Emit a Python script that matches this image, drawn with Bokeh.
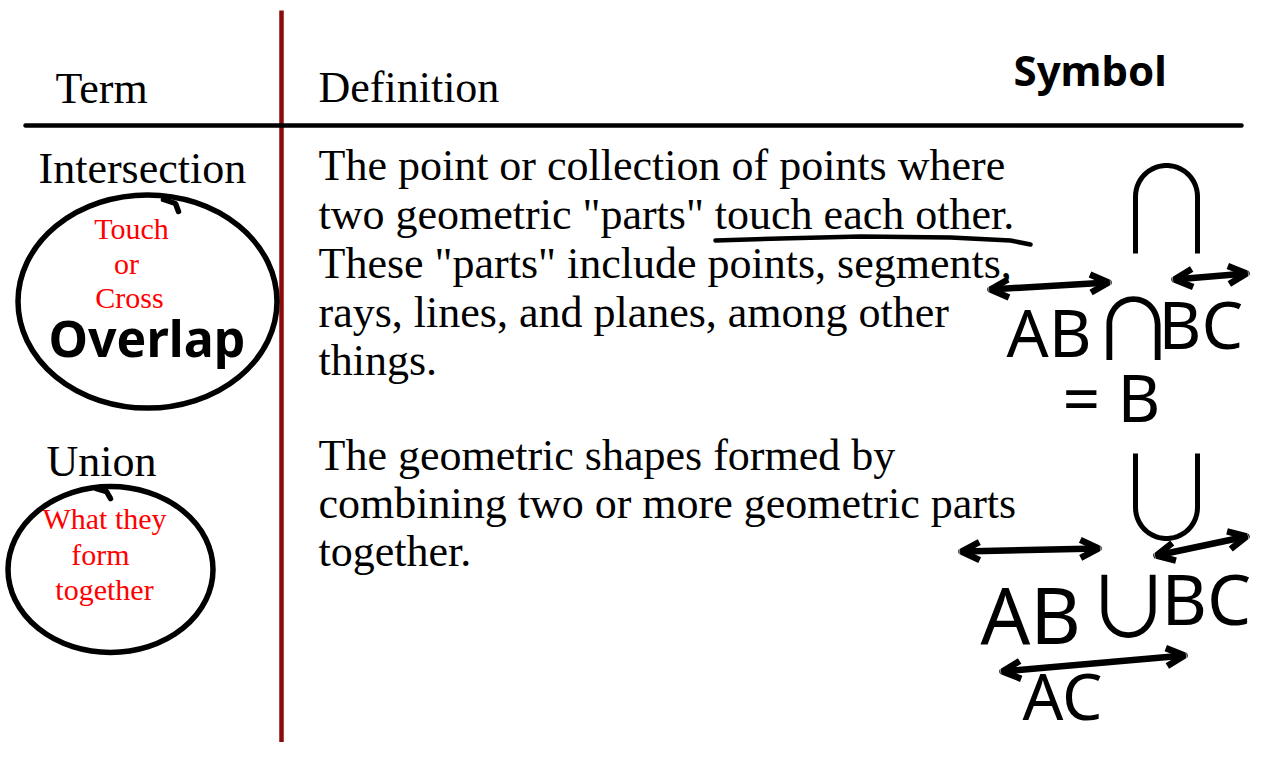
import numpy as np
from bokeh.plotting import figure
from bokeh.models import Range1d, Arrow, OpenHead
from bokeh.core.properties import value
from bokeh.embed import file_html
from bokeh.resources import INLINE

# ---------------- content ----------------
header_texts = ["Term", "Definition"]
term_texts = ["Intersection", "Union"]
intersection_def = [
    "The point or collection of points where",
    "two geometric \"parts\" touch each other.",
    "These \"parts\" include points, segments,",
    "rays, lines, and planes, among other",
    "things.",
]
union_def = [
    "The geometric shapes formed by",
    "combining two or more geometric parts",
    "together.",
]
intersection_notes = ["Touch", "or", "Cross"]
union_notes = ["What they", "form", "together"]
hand_words = ["Symbol", "Overlap"]
intersection_expr = ["AB", "\u2229", "BC", "= B"]
union_expr = ["AB", "\u222A", "BC", "AC"]

# ---------------- layout (pixel-like data coordinates) ----------------
W, H = 1252, 742
p = figure(width=W, height=H, x_range=Range1d(0, W), y_range=Range1d(H, 0),
           x_axis_type=None, y_axis_type=None, toolbar_location=None,
           output_backend="svg", min_border=0, outline_line_color=None,
           background_fill_color="white", border_fill_color="white")

SERIF = value("Liberation Serif")
HAND = value("Noto Sans")
SYM = value("Noto Sans CJK JP")

def by(baselines, size, k):
    # place glyph baselines at the wanted pixel rows
    return [b - k * size for b in baselines]

KS, KH, KD = 0.35, 0.41, 0.40

# table rules
p.line(x=[281, 281], y=[10, 760], line_color="#8b0a0a", line_width=4.5)
p.line(x=[25, 1241], y=[125, 125], line_color="black", line_width=4.5, line_cap="round")

# headers
p.text(x=[55, 318], y=by([103, 102], 44, KS), text=header_texts, text_font=SERIF,
       text_font_size="44px", text_baseline="alphabetic", text_color="black")

# terms
p.text(x=[38, 46], y=by([183, 476], 44, KS), text=term_texts, text_font=SERIF,
       text_font_size="44px", text_baseline="alphabetic", text_color="black")

# definitions
p.text(x=[318] * len(intersection_def), y=by([180, 229, 278, 327, 375], 44, KS),
       text=intersection_def, text_font=SERIF, text_font_size="44px",
       text_baseline="alphabetic", text_color="black")
p.text(x=[318] * len(union_def), y=by([470, 518, 566], 44, KS),
       text=union_def, text_font=SERIF, text_font_size="44px",
       text_baseline="alphabetic", text_color="black")

# red notes
p.text(x=[131, 126, 129], y=by([238, 273, 307], 30, KS), text=intersection_notes,
       text_font=SERIF, text_font_size="30px", text_align="center",
       text_baseline="alphabetic", text_color="red")
p.text(x=[104, 100, 104], y=by([528, 564, 599], 30, KS), text=union_notes,
       text_font=SERIF, text_font_size="30px", text_align="center",
       text_baseline="alphabetic", text_color="red")

# hand drawn circles
p.ellipse(x=[147, 110], y=[301, 569], width=[259, 205], height=[213, 166],
          fill_color=None, line_color="black", line_width=5.5)
p.multi_line(xs=[[163, 175, 178], [96, 106, 110]], ys=[[199, 203, 211], [488, 491, 498]],
             line_color="black", line_width=5.5, line_cap="round")

# underline
p.line(x=[715, 780, 860, 950, 1010, 1030], y=[240, 238, 236, 237, 240, 244],
       line_color="black", line_width=4.5, line_cap="round", line_join="round")

# handwritten words
p.text(x=[1013], y=by([86], 42, KH), text=[hand_words[0]], text_font=HAND,
       text_font_size="42px", text_font_style="bold", text_baseline="alphabetic",
       text_color="black")
p.text(x=[48], y=by([358], 50, KH), text=[hand_words[1]], text_font=HAND,
       text_font_size="50px", text_font_style="bold", text_baseline="alphabetic",
       text_color="black")

# neat symbols (cap and cup)
def cap_path(cx, cy, r, leg, up=True):
    t = np.linspace(np.pi, 0, 30)
    s = -1 if up else 1
    xs = np.concatenate([[cx - r], cx + r * np.cos(t), [cx + r]])
    ys = np.concatenate([[cy - s * leg], cy + s * r * np.sin(t), [cy - s * leg]])
    return xs, ys

cx, cy = cap_path(1166, 196, 31, 57, up=True)
p.line(x=cx, y=cy, line_color="black", line_width=5)
ux, uy = cap_path(1166, 507, 31, 54, up=False)
p.line(x=ux, y=uy, line_color="black", line_width=5)

# handwritten expressions
p.text(x=[1006, 1158, 1062], y=by([358, 350, 423], 66, KH),
       text=[intersection_expr[0], intersection_expr[2], intersection_expr[3]],
       text_font=HAND, text_font_size="66px",
       text_baseline="alphabetic", text_color="black")
p.text(x=[1133], y=by([357], 84, KD), text=[intersection_expr[1]], text_font=SYM,
       text_font_size="84px", text_align="center", text_baseline="alphabetic",
       text_color="black")
p.text(x=[980], y=by([645], 78, KH), text=[union_expr[0]],
       text_font=HAND, text_font_size="78px",
       text_baseline="alphabetic", text_color="black")
p.text(x=[1161], y=by([626], 70, KH), text=[union_expr[2]],
       text_font=HAND, text_font_size="70px",
       text_baseline="alphabetic", text_color="black")
p.text(x=[1022], y=by([721], 64, KH), text=[union_expr[3]],
       text_font=HAND, text_font_size="64px",
       text_baseline="alphabetic", text_color="black")
p.text(x=[1128], y=by([635], 84, KD), text=[union_expr[1]], text_font=SYM,
       text_font_size="84px", text_align="center", text_baseline="alphabetic",
       text_color="black")

# double arrows (line symbols)
arrows = [
    (990, 289, 1108, 282),
    (1174, 279, 1246, 273),
    (961, 551, 1098, 548),
    (1156, 555, 1246, 536),
    (1002, 671, 1184, 655),
]
for xs_, ys_, xe_, ye_ in arrows:
    p.add_layout(Arrow(x_start=xs_, y_start=ys_, x_end=xe_, y_end=ye_,
                       line_width=6.5, line_color="black", line_cap="round",
                       start=OpenHead(size=18, line_width=6.5, line_color="black"),
                       end=OpenHead(size=18, line_width=6.5, line_color="black")))

open("out.html", "w").write(file_html(p, INLINE))
